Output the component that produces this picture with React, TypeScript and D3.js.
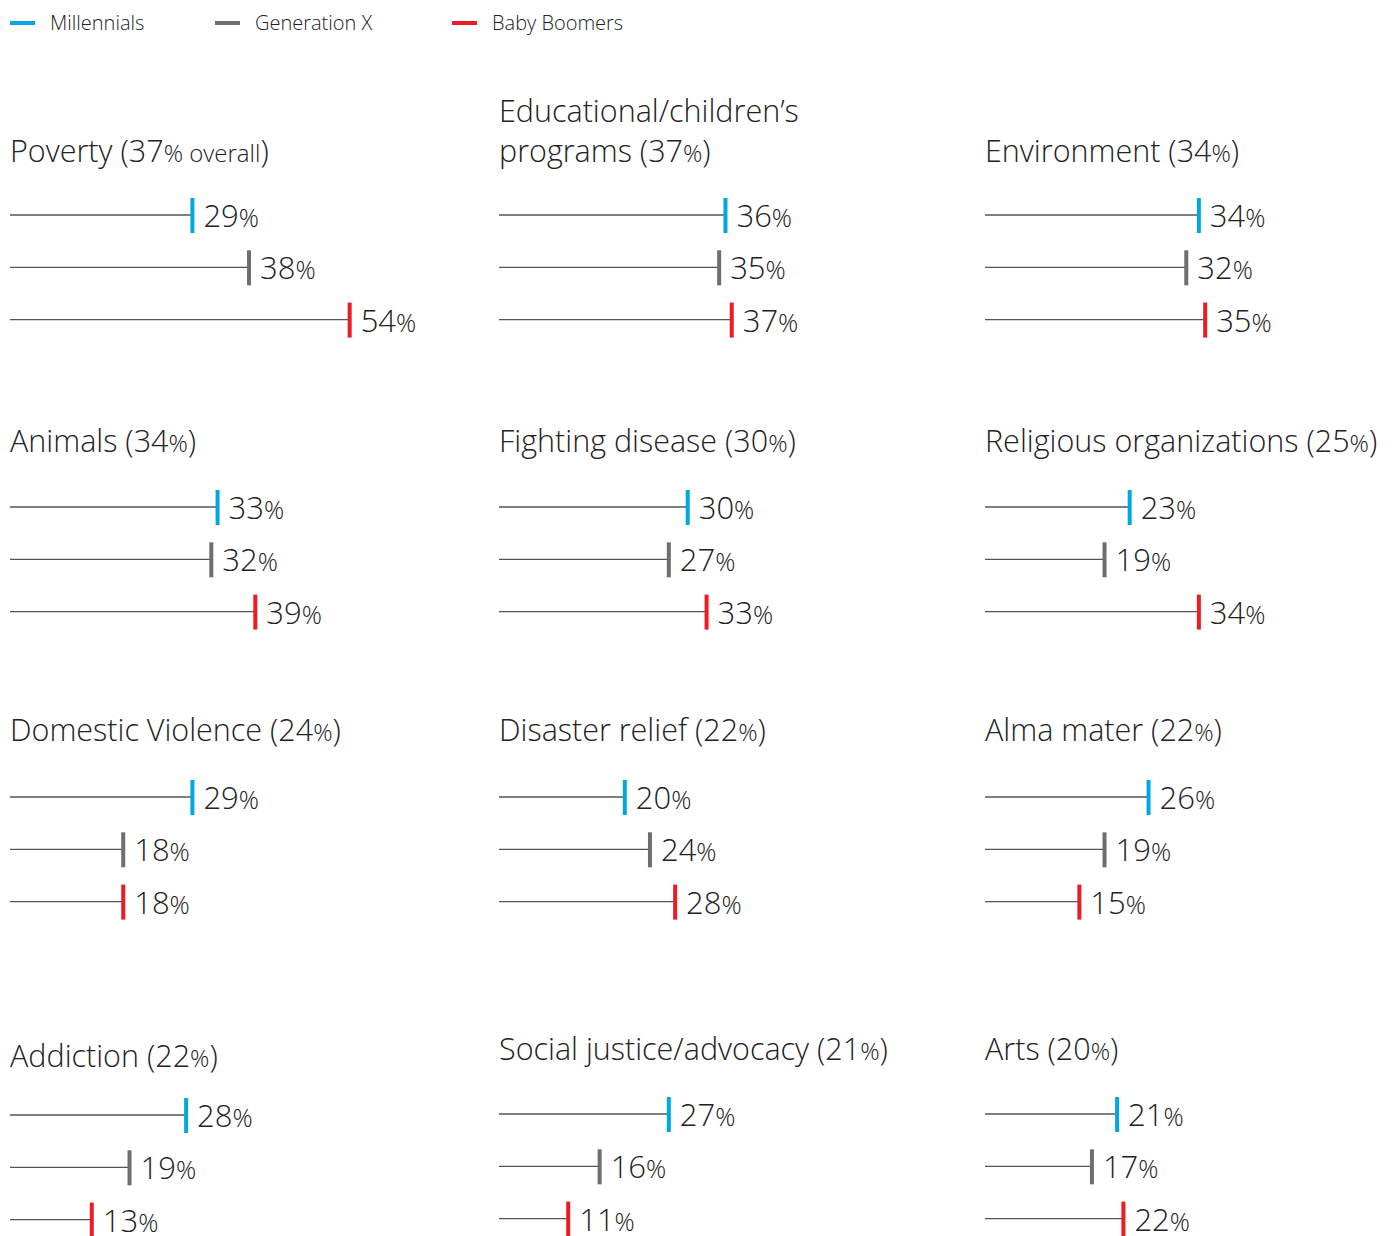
import * as d3 from 'd3'

// categories and their overall share
const categories = [
    'Poverty', 'Educational/children\u2019s programs', 'Environment',
    'Animals', 'Fighting disease', 'Religious organizations',
    'Domestic Violence', 'Disaster relief', 'Alma mater',
    'Addiction', 'Social justice/advocacy', 'Arts'
]
const overall = [37, 37, 34, 34, 30, 25, 24, 22, 22, 22, 21, 20]

// generation values, same order as categories
const millennials = [29, 36, 34, 33, 30, 23, 29, 20, 26, 28, 27, 21]
const generationX = [38, 35, 32, 32, 27, 19, 18, 24, 19, 19, 16, 17]
const babyBoomers = [54, 37, 35, 39, 33, 34, 18, 28, 15, 13, 11, 22]

const seriesNames = ['Millennials', 'Generation X', 'Baby Boomers']
const seriesColors = ['#00a8e1', '#6d6e71', '#ed1c24']

// layout
const colX = [10, 499, 985]
const legendPos = [10, 215, 452]
const rowTitleY = [162, 452, 741, 1060]
const rowBarY = [215, 507, 797, 1115]
const barGap = 52.3
const FONT = '"Open Sans", sans-serif'

export default function App() {
    const width = 1398
    const height = 1236

    const x = d3.scaleLinear().domain([0, 100]).range([0, 629])

    const panels = categories.map((name, i) => ({
        name,
        overall: overall[i],
        values: [millennials[i], generationX[i], babyBoomers[i]],
        col: i % 3,
        row: Math.floor(i / 3)
    }))

    return (
        <svg width={width} height={height} style={{ display: 'block', position: 'absolute', left: 0, top: 0 }}
            fontFamily={FONT}>
            <g>
                {seriesNames.map((s, i) => (
                    <g key={s} transform={`translate(${legendPos[i]},0)`}>
                        <rect x={0} y={21} width={25} height={4} fill={seriesColors[i]} />
                        <text x={40} y={30} fontSize={20} fontWeight={300} fill="#222">{s}</text>
                    </g>
                ))}
            </g>
            {panels.map((p, i) => {
                const x0 = colX[p.col]
                let titleY = rowTitleY[p.row]
                let barY = rowBarY[p.row]
                if (p.row === 3 && p.col === 0) { titleY += 7 }
                if (p.row === 3 && p.col > 0) { barY -= 1 }
                const pct = i === 0 ? '% overall' : '%'
                const twoLine = p.name.startsWith('Educational')
                return (
                    <g key={p.name}>
                        {twoLine ? (
                            <text x={x0} y={titleY} fontSize={30.5} fontWeight={300} fill="#222">
                                <tspan x={x0} y={titleY - 40}>Educational/children{'\u2019'}s</tspan>
                                <tspan x={x0} y={titleY}>programs ({p.overall}</tspan>
                                <tspan fontSize={24}>{pct}</tspan>
                                <tspan>)</tspan>
                            </text>
                        ) : (
                            <text x={x0} y={titleY} fontSize={30.5} fontWeight={300} fill="#222">
                                {p.name} ({p.overall}
                                <tspan fontSize={24}>{pct}</tspan>
                                <tspan>)</tspan>
                            </text>
                        )}
                        {p.values.map((v, j) => {
                            const y = barY + j * barGap
                            const xe = x0 + x(v)
                            return (
                                <g key={j}>
                                    <line x1={x0} x2={xe} y1={y} y2={y} stroke="#555" strokeWidth={1.3} />
                                    <rect x={xe - 2} y={y - 17} width={4} height={35} fill={seriesColors[j]} />
                                    <text x={xe + 11} y={y + 12} fontSize={31} fontWeight={300} fill="#222">
                                        {v}
                                        <tspan fontSize={25}>%</tspan>
                                    </text>
                                </g>
                            )
                        })}
                    </g>
                )
            })}
        </svg>
    )
}
